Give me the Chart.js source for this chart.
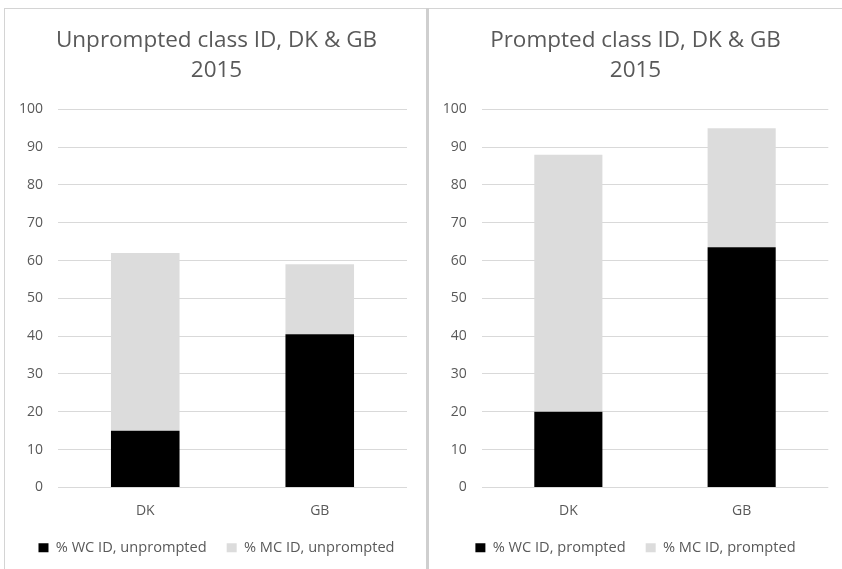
<!DOCTYPE html>
<html>
<head>
<meta charset="utf-8">
<script src="https://cdn.jsdelivr.net/npm/chart.js@4.4.1/dist/chart.umd.min.js"></script>
<style>
  html, body { margin: 0; padding: 0; background: #fff; width: 842px; height: 569px; overflow: hidden; }
  .panel { position: absolute; background: #fff; box-sizing: border-box; }
  #leftPanel { left: 4px; top: 8px; width: 422px; height: 580px; border-left: 1px solid #d4d4d4; border-top: 1px solid #d4d4d4; }
  #sep { position: absolute; left: 426px; top: 8px; width: 3px; height: 580px; background: #cfcfcf; }
  #rightPanel { left: 429px; top: 8px; width: 420px; height: 580px; border-top: 1px solid #d4d4d4; }
  canvas { position: absolute; top: 0; }
</style>
</head>
<body>
<div class="panel" id="leftPanel"><div style="position:absolute;left:1px;top:0;width:421px;height:556px;"><canvas id="c1"></canvas></div></div>
<div id="sep"></div>
<div class="panel" id="rightPanel"><div style="position:absolute;left:0;top:0;width:413px;height:556px;"><canvas id="c2"></canvas></div></div>
<script>
// Countries on the x axis
const countries = ['DK', 'GB'];

// Unprompted class identification (%)
const wcUnprompted = [15, 40.5];
const mcUnprompted = [47, 18.5];

// Prompted class identification (%)
const wcPrompted = [20, 63.5];
const mcPrompted = [68, 31.5];

const titleUnprompted = ['Unprompted class ID, DK & GB', '2015'];
const titlePrompted = ['Prompted class ID, DK & GB', '2015'];
const legendUnprompted = ['% WC ID, unprompted', '% MC ID, unprompted'];
const legendPrompted = ['% WC ID, prompted', '% MC ID, prompted'];
const yTicks = { min: 0, max: 100, step: 10 };

const FONT = "'Open Sans', 'DejaVu Sans', sans-serif";
const TEXT = '#595959';
const GRID = '#d9d9d9';
const WC_COLOR = '#000000';
const MC_COLOR = '#dcdcdc';

function makeChart(id, title, legendLabels, wc, mc, rightPad, yWidth) {
  return new Chart(document.getElementById(id), {
    type: 'bar',
    data: {
      labels: countries,
      datasets: [
        { label: legendLabels[0], data: wc, backgroundColor: WC_COLOR, barPercentage: 0.393, categoryPercentage: 1 },
        { label: legendLabels[1], data: mc, backgroundColor: MC_COLOR, barPercentage: 0.393, categoryPercentage: 1 }
      ]
    },
    options: {
      responsive: true,
      maintainAspectRatio: false,
      animation: false,
      layout: { padding: 0 },
      plugins: {
        title: {
          display: true,
          text: title,
          color: TEXT,
          font: { family: FONT, size: 22.5, weight: 'normal', lineHeight: 30 / 22.5 },
          padding: { top: 17, bottom: 23.3 }
        },
        legend: {
          position: 'bottom',
          labels: {
            color: TEXT,
            font: { family: FONT, size: 14.6 },
            boxWidth: 10,
            boxHeight: 9,
            padding: 20
          }
        },
        tooltip: { enabled: false }
      },
      scales: {
        x: {
          stacked: true,
          grid: { display: false, drawTicks: false },
          border: { display: false },
          ticks: { color: TEXT, font: { family: FONT, size: 14 }, padding: 15 },
          afterFit: (s) => { s.height = 33; }
        },
        y: {
          stacked: true,
          min: yTicks.min,
          max: yTicks.max,
          grid: { color: GRID, lineWidth: 1, drawTicks: false },
          border: { display: false },
          ticks: { stepSize: yTicks.step, color: TEXT, font: { family: FONT, size: 14 }, padding: 15 },
          afterFit: (s) => { s.width = yWidth; }
        },
        // empty spacer on the right so the plot area ends short of the panel edge
        pad: {
          type: 'linear',
          position: 'right',
          grid: { display: false, drawTicks: false },
          border: { display: false },
          ticks: { display: false },
          afterFit: (s) => { s.width = rightPad; }
        }
      }
    }
  });
}

makeChart('c1', titleUnprompted, legendUnprompted, wcUnprompted, mcUnprompted, 20, 52);
makeChart('c2', titlePrompted, legendPrompted, wcPrompted, mcPrompted, 13.7, 52.7);
</script>
</body>
</html>
